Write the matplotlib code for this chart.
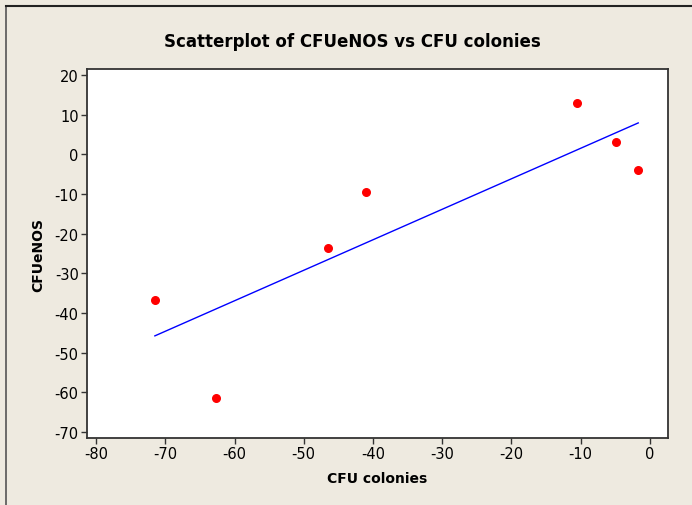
import numpy as np
import matplotlib
matplotlib.use("Agg")
import matplotlib.pyplot as plt
from matplotlib.lines import Line2D

cfu_colonies = [-71.5, -62.6, -46.5, -41.0, -10.6, -4.9, -1.7]
cfu_enos = [-36.7, -61.4, -23.5, -9.5, 12.9, 3.0, -3.9]
xticks = [-80, -70, -60, -50, -40, -30, -20, -10, 0]
yticks = [20, 10, 0, -10, -20, -30, -40, -50, -60, -70]

bg = "#EEEAE0"
plt.rcParams['font.family'] = ['DejaVu Sans']
plt.rcParams['axes.unicode_minus'] = False

fig = plt.figure(figsize=(6.92, 5.06), dpi=100, facecolor=bg)
ax = fig.add_axes([87/692, 1 - 439/506, (668 - 87)/692, (439 - 70)/506])
ax.set_facecolor("white")

ax.scatter(cfu_colonies, cfu_enos, s=30, color="red", zorder=3)

# least squares fit line over the data range
slope, icpt = np.polyfit(cfu_colonies, cfu_enos, 1)
xs = np.array([min(cfu_colonies), max(cfu_colonies)])
ax.plot(xs, slope * xs + icpt, color="blue", linewidth=1.0)

ax.set_xlim(-81.3, 2.6)
ax.set_ylim(-71.5, 21.5)
ax.set_xticks(xticks)
ax.set_yticks(yticks)
ax.tick_params(direction="out", length=4, width=1, color="#333333",
               labelsize=10.5, labelcolor="black", pad=2)
for sp in ax.spines.values():
    sp.set_color("#333333")
    sp.set_linewidth(1.3)

ax.set_xlabel("CFU colonies", fontsize=10, fontweight="bold", labelpad=7)
ax.set_ylabel("CFUeNOS", fontsize=10, fontweight="bold", labelpad=7)

fig.text(352/692, 1 - 42/506, "Scatterplot of CFUeNOS vs CFU colonies",
         ha="center", va="center", fontsize=12, fontweight="bold")

# outer frame (left and top edges only visible)
fig.add_artist(Line2D([6/692, 6/692], [0, 1 - 7/506], transform=fig.transFigure,
                      color="#555555", linewidth=1.2))
fig.add_artist(Line2D([6/692, 1], [1 - 7/506, 1 - 7/506], transform=fig.transFigure,
                      color="#222222", linewidth=1.5))

fig.savefig("out.png", dpi=100, facecolor=bg)
